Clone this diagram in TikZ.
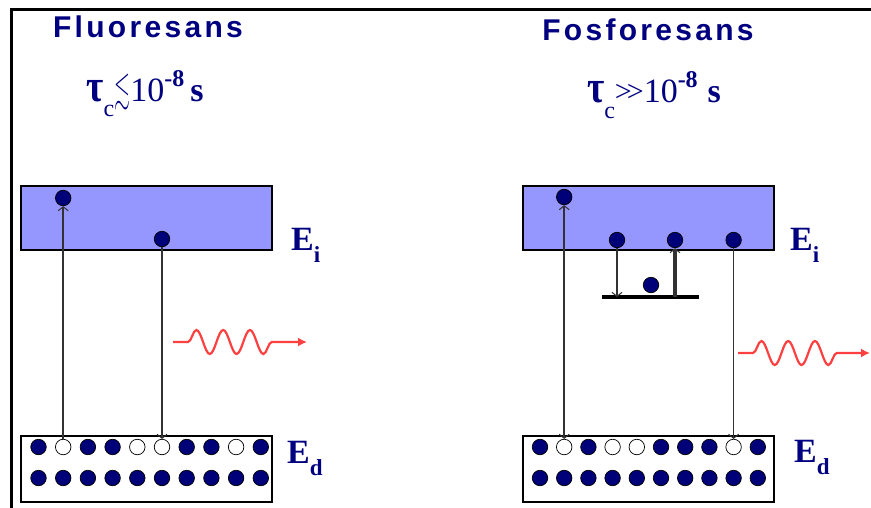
\documentclass[tikz,border=0pt]{standalone}
\usepackage{amssymb}
\usepackage{fontspec}
\setmainfont{Liberation Serif}
\newfontfamily\titlefont[LetterSpace=11]{Liberation Sans}
\usetikzlibrary{arrows.meta,decorations.pathmorphing}
\DeclareFontFamily{U}{msa}{}
\DeclareFontShape{U}{msa}{m}{n}{<-> msam10}{}
\definecolor{txtblue}{RGB}{0,0,128}
\definecolor{bandfill}{RGB}{150,150,255}
\definecolor{elec}{RGB}{0,0,120}
\definecolor{photonc}{RGB}{255,64,64}
\definecolor{transc}{RGB}{50,50,50}

\begin{document}
\begin{tikzpicture}[
  x=1pt,y=-1pt,
  >={Straight Barb[length=4pt,width=10pt,line width=1pt]},
  title/.style={font=\fontsize{30}{30}\selectfont\titlefont\bfseries,
    text=txtblue, anchor=base, inner sep=0pt},
  tau/.style={font=\fontsize{34}{34}\selectfont, text=txtblue,
    anchor=base, inner sep=0pt},
  elabel/.style={font=\fontsize{34}{34}\selectfont\bfseries, text=txtblue,
    anchor=base west, inner sep=0pt},
  cband/.style={draw=black, line width=1.4pt, fill=bandfill,
    minimum width=251pt, minimum height=64pt, inner sep=0pt},
  vband/.style={draw=black, line width=1.4pt, fill=white,
    minimum width=251pt, minimum height=66pt, inner sep=0pt},
  dot/.style={circle, draw=black, line width=0.7pt, fill=elec,
    minimum size=15.5pt, inner sep=0pt},
  trans/.style={draw=transc, line width=1.6pt},
  level/.style={draw=black, line width=3.2pt},
  photon/.style={draw=photonc, line width=2.2pt, decorate,
    decoration={snake, segment length=26.8pt, amplitude=12pt,
      pre length=15pt, post length=25pt},
    -{Latex[length=9pt,width=9pt]}}
]
  \path[fill=white, use as bounding box] (0,0) rectangle (871,507);
  \draw[line width=3pt] (11,510) -- (11,9) -- (875,9);

  % Fluoresans
  \node[title] (tF) at (148,37) {Fluoresans};
  \node[tau] (tauF) at (145,101)
    {\scalebox{1.1}[1.35]{\textbf{τ}}\raisebox{-15pt}{\fontsize{24}{24}\selectfont c}\scalebox{0.6}[1.1]{$\lesssim$}10\raisebox{15pt}{\fontsize{24}{24}\selectfont\bfseries -8}\hspace{6pt}\textbf{s}};
  \node[cband] (cL) at (146.5,218) {};
  \node[vband] (vL) at (146.5,469) {};
  \node[elabel] (EiL) at (291,250) {E\raisebox{-12pt}{\fontsize{23}{23}\selectfont i}};
  \node[elabel] (EdL) at (287,463) {E\raisebox{-12pt}{\fontsize{23}{23}\selectfont d}};
  \foreach \c [count=\i from 0] in {elec,white,elec,elec,white,white,elec,elec,white,elec}
    \node[dot, fill=\c] (vL-\i) at ({38.5+24.7*\i},447) {};
  \foreach \i in {0,...,9}
    \node[dot] (wL-\i) at ({38.5+24.7*\i},478) {};
  \coordinate (topL) at (0,198);
  \coordinate (midL) at (0,239);
  \node[dot] (eL-1) at (vL-1 |- topL) {};
  \node[dot] (eL-2) at (vL-5 |- midL) {};
  \draw[trans,->] (vL-1) -- (eL-1);
  \draw[trans,->] (eL-2) -- (vL-5);
  \coordinate (wL-s) at (173,342);
  \coordinate (wL-e) at (307,342);
  \draw[photon] (wL-s) -- (wL-e);

  % Fosforesans
  \node[title] (tP) at (648,40) {Fosforesans};
  \node[tau] (tauP) at (654,102)
    {\scalebox{1.1}[1.35]{\textbf{τ}}\raisebox{-16pt}{\fontsize{24}{24}\selectfont c}\raisebox{1pt}{\fontsize{30}{30}\selectfont >\kern-5pt>}10\raisebox{15pt}{\fontsize{24}{24}\selectfont\bfseries -8}\hspace{10pt}\textbf{s}};
  \node[cband] (cR) at (648.5,218) {};
  \node[vband] (vR) at (648.5,469) {};
  \node[elabel] (EiR) at (790,250) {E\raisebox{-12pt}{\fontsize{23}{23}\selectfont i}};
  \node[elabel] (EdR) at (794,462) {E\raisebox{-12pt}{\fontsize{23}{23}\selectfont d}};
  \foreach \c [count=\i from 0] in {elec,white,elec,white,white,elec,elec,elec,white,elec}
    \node[dot, fill=\c] (vR-\i) at ({540+24.2*\i},447) {};
  \foreach \i in {0,...,9}
    \node[dot] (wR-\i) at ({540+24.2*\i},478) {};
  \coordinate (topR) at (0,197);
  \coordinate (midR) at (0,240);
  \coordinate (trapA) at (602,297);
  \coordinate (trapB) at (699,297);
  \node[dot] (eR-1) at (vR-1 |- topR) {};
  \node[dot] (eR-2) at (617,240) {};
  \node[dot] (eR-3) at (675,240) {};
  \node[dot] (eR-4) at (vR-8 |- midR) {};
  \node[dot] (tR) at (651,285) {};
  \draw[level] (trapA) -- (trapB);
  \draw[trans,<->] (vR-1) -- (eR-1);
  \draw[trans,->] (eR-2) -- (eR-2 |- trapA);
  \draw[trans,->,line width=3.5pt] (eR-3 |- trapA) -- (eR-3);
  \draw[trans,->] (eR-4) -- (vR-8);
  \coordinate (wR-s) at (738,353);
  \coordinate (wR-e) at (870,353);
  \draw[photon] (wR-s) -- (wR-e);
\end{tikzpicture}
\end{document}
